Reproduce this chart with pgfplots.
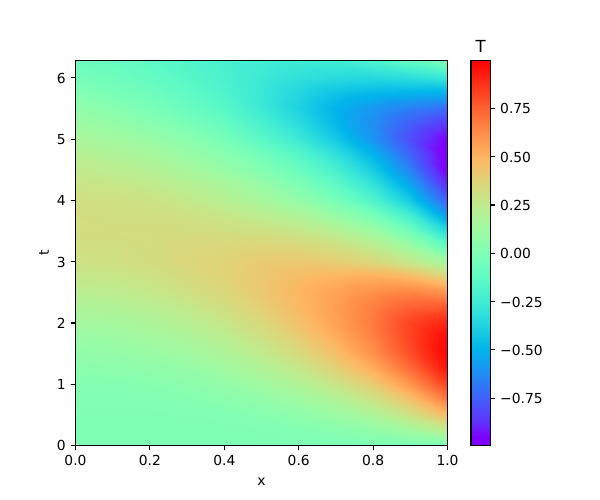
\documentclass[border=0pt]{standalone}
\usepackage{pgfplots}
\usepackage{fontspec}
\setmainfont{DejaVu Sans}
\pgfplotsset{compat=1.18}
\pgfplotsset{
  colormap={mplrainbow}{
    rgb(0pt)=(.5,0,1) rgb(0.35pt)=(.5,0,1) rgb(1pt)=(.375,.195,.995) rgb(2pt)=(.25,.383,.981) rgb(3pt)=(.125,.556,.957)
    rgb(4pt)=(0,.707,.924) rgb(5pt)=(.125,.831,.882) rgb(6pt)=(.25,.924,.831) rgb(7pt)=(.375,.981,.773)
    rgb(8pt)=(.5,1,.707) rgb(9pt)=(.625,.981,.634) rgb(10pt)=(.75,.924,.556) rgb(11pt)=(.875,.831,.471)
    rgb(12pt)=(1,.707,.383) rgb(13pt)=(1,.556,.290) rgb(14pt)=(1,.383,.195) rgb(15pt)=(1,.195,.098) rgb(16pt)=(1,0,0)
  }
}
\begin{document}
\begin{tikzpicture}[x=1in,y=1in]
\path[use as bounding box] (0,0) rectangle (6,5);
\begin{axis}[
  at={(0.755in,0.545in)}, anchor=south west,
  scale only axis, width=3.72in, height=3.85in,
  xmin=0, xmax=1, ymin=0, ymax=6.2832,
  view={0}{90},
  colormap name=mplrainbow,
  point meta min=-0.995, point meta max=0.998,
  axis on top,
  axis line style={line width=0.8pt},
  tick style={black,line width=0.8pt},
  major tick length=3.5pt,
  tick align=outside,
  xtick pos=bottom, ytick pos=left,
  xtick={0,0.2,0.4,0.6,0.8,1},
  ytick={0,1,2,3,4,5,6},
  /pgf/number format/assume math mode=true,
  xticklabel style={/pgf/number format/fixed,/pgf/number format/fixed zerofill,/pgf/number format/precision=1},
  yticklabel style={yshift=-0.3pt},
  tick label style={font=\fontsize{10}{12}\selectfont},
  label style={font=\fontsize{10}{12}\selectfont},
  xlabel={x}, ylabel={t},
  xlabel style={yshift=-2pt},
  ylabel style={yshift=-1pt},
  colorbar,
  colorbar style={
    at={(1.0632,1)}, anchor=north west,
    scale only axis, width=0.195in,
    ytick={-0.75,-0.5,-0.25,0,0.25,0.5,0.75},
    yticklabels={−0.75,−0.50,−0.25,0.00,0.25,0.50,0.75},
    tick style={black,line width=0.8pt},
    major tick length=3.5pt,
    tick align=outside,
    ytick pos=right,
    yticklabel style={yshift=-0.3pt},
    tick label style={font=\fontsize{10}{12}\selectfont},
    title={T},
    title style={font=\fontsize{12}{14}\selectfont,yshift=-3.7pt},
    axis line style={line width=0.8pt},
    axis on top,
  },
]
\addplot3[surf, shader=interp, mesh/rows=26, mesh/cols=11, mesh/ordering=x varies] coordinates {
(0,0,0) (0.1,0,0) (0.2,0,0) (0.3,0,0) (0.4,0,0) (0.5,0,0) (0.6,0,0) (0.7,0,0) (0.8,0,0) (0.9,0,0) (1,0,0)

(0,0.25,0) (0.1,0.25,0) (0.2,0.25,0) (0.3,0.25,0) (0.4,0.25,0) (0.5,0.25,0.005) (0.6,0.25,0.015) (0.7,0.25,0.035) (0.8,0.25,0.07) (0.9,0.25,0.14) (1,0.25,0.25)

(0,0.5,0) (0.1,0.5,0) (0.2,0.5,0) (0.3,0.5,0.005) (0.4,0.5,0.01) (0.5,0.5,0.03) (0.6,0.5,0.06) (0.7,0.5,0.11) (0.8,0.5,0.18) (0.9,0.5,0.30) (1,0.5,0.48)

(0,0.75,0.01) (0.1,0.75,0.01) (0.2,0.75,0.015) (0.3,0.75,0.02) (0.4,0.75,0.04) (0.5,0.75,0.07) (0.6,0.75,0.12) (0.7,0.75,0.19) (0.8,0.75,0.29) (0.9,0.75,0.44) (1,0.75,0.68)

(0,1,0.02) (0.1,1,0.02) (0.2,1,0.03) (0.3,1,0.05) (0.4,1,0.08) (0.5,1,0.13) (0.6,1,0.20) (0.7,1,0.29) (0.8,1,0.41) (0.9,1,0.60) (1,1,0.84)

(0,1.25,0.04) (0.1,1.25,0.05) (0.2,1.25,0.06) (0.3,1.25,0.08) (0.4,1.25,0.13) (0.5,1.25,0.19) (0.6,1.25,0.27) (0.7,1.25,0.38) (0.8,1.25,0.52) (0.9,1.25,0.72) (1,1.25,0.95)

(0,1.5,0.07) (0.1,1.5,0.08) (0.2,1.5,0.10) (0.3,1.5,0.13) (0.4,1.5,0.18) (0.5,1.5,0.25) (0.6,1.5,0.34) (0.7,1.5,0.46) (0.8,1.5,0.61) (0.9,1.5,0.80) (1,1.5,1.0)

(0,1.75,0.10) (0.1,1.75,0.11) (0.2,1.75,0.14) (0.3,1.75,0.17) (0.4,1.75,0.23) (0.5,1.75,0.30) (0.6,1.75,0.40) (0.7,1.75,0.52) (0.8,1.75,0.66) (0.9,1.75,0.83) (1,1.75,0.98)

(0,2,0.14) (0.1,2,0.15) (0.2,2,0.18) (0.3,2,0.22) (0.4,2,0.28) (0.5,2,0.35) (0.6,2,0.45) (0.7,2,0.56) (0.8,2,0.68) (0.9,2,0.83) (1,2,0.91)

(0,2.25,0.18) (0.1,2.25,0.19) (0.2,2.25,0.22) (0.3,2.25,0.26) (0.4,2.25,0.32) (0.5,2.25,0.39) (0.6,2.25,0.48) (0.7,2.25,0.57) (0.8,2.25,0.67) (0.9,2.25,0.76) (1,2.25,0.78)

(0,2.5,0.23) (0.1,2.5,0.24) (0.2,2.5,0.27) (0.3,2.5,0.31) (0.4,2.5,0.36) (0.5,2.5,0.42) (0.6,2.5,0.49) (0.7,2.5,0.56) (0.8,2.5,0.62) (0.9,2.5,0.65) (1,2.5,0.60)

(0,2.75,0.27) (0.1,2.75,0.28) (0.2,2.75,0.30) (0.3,2.75,0.34) (0.4,2.75,0.38) (0.5,2.75,0.42) (0.6,2.75,0.47) (0.7,2.75,0.50) (0.8,2.75,0.52) (0.9,2.75,0.49) (1,2.75,0.38)

(0,3,0.30) (0.1,3,0.31) (0.2,3,0.33) (0.3,3,0.36) (0.4,3,0.38) (0.5,3,0.41) (0.6,3,0.42) (0.7,3,0.40) (0.8,3,0.36) (0.9,3,0.27) (1,3,0.14)

(0,3.25,0.32) (0.1,3.25,0.32) (0.2,3.25,0.33) (0.3,3.25,0.35) (0.4,3.25,0.36) (0.5,3.25,0.37) (0.6,3.25,0.36) (0.7,3.25,0.32) (0.8,3.25,0.25) (0.9,3.25,0.12) (1,3.25,-0.11)

(0,3.5,0.33) (0.1,3.5,0.33) (0.2,3.5,0.33) (0.3,3.5,0.33) (0.4,3.5,0.32) (0.5,3.5,0.31) (0.6,3.5,0.28) (0.7,3.5,0.22) (0.8,3.5,0.12) (0.9,3.5,-0.05) (1,3.5,-0.35)

(0,3.75,0.33) (0.1,3.75,0.32) (0.2,3.75,0.32) (0.3,3.75,0.31) (0.4,3.75,0.28) (0.5,3.75,0.24) (0.6,3.75,0.19) (0.7,3.75,0.10) (0.8,3.75,-0.02) (0.9,3.75,-0.22) (1,3.75,-0.57)

(0,4,0.32) (0.1,4,0.31) (0.2,4,0.30) (0.3,4,0.27) (0.4,4,0.22) (0.5,4,0.16) (0.6,4,0.08) (0.7,4,-0.03) (0.8,4,-0.18) (0.9,4,-0.42) (1,4,-0.76)

(0,4.25,0.29) (0.1,4.25,0.28) (0.2,4.25,0.26) (0.3,4.25,0.22) (0.4,4.25,0.17) (0.5,4.25,0.10) (0.6,4.25,0) (0.7,4.25,-0.12) (0.8,4.25,-0.29) (0.9,4.25,-0.54) (1,4.25,-0.89)

(0,4.5,0.26) (0.1,4.5,0.24) (0.2,4.5,0.21) (0.3,4.5,0.16) (0.4,4.5,0.10) (0.5,4.5,0.02) (0.6,4.5,-0.08) (0.7,4.5,-0.21) (0.8,4.5,-0.40) (0.9,4.5,-0.65) (1,4.5,-0.98)

(0,4.75,0.22) (0.1,4.75,0.19) (0.2,4.75,0.16) (0.3,4.75,0.10) (0.4,4.75,0.04) (0.5,4.75,-0.05) (0.6,4.75,-0.16) (0.7,4.75,-0.31) (0.8,4.75,-0.50) (0.9,4.75,-0.74) (1,4.75,-1.0)

(0,5,0.17) (0.1,5,0.14) (0.2,5,0.10) (0.3,5,0.04) (0.4,5,-0.03) (0.5,5,-0.14) (0.6,5,-0.26) (0.7,5,-0.42) (0.8,5,-0.60) (0.9,5,-0.80) (1,5,-0.96)

(0,5.25,0.12) (0.1,5.25,0.09) (0.2,5.25,0.04) (0.3,5.25,-0.02) (0.4,5.25,-0.09) (0.5,5.25,-0.20) (0.6,5.25,-0.33) (0.7,5.25,-0.48) (0.8,5.25,-0.62) (0.9,5.25,-0.76) (1,5.25,-0.86)

(0,5.5,0.07) (0.1,5.5,0.03) (0.2,5.5,-0.02) (0.3,5.5,-0.08) (0.4,5.5,-0.15) (0.5,5.5,-0.26) (0.6,5.5,-0.38) (0.7,5.5,-0.50) (0.8,5.5,-0.59) (0.9,5.5,-0.66) (1,5.5,-0.71)

(0,5.75,0.02) (0.1,5.75,-0.02) (0.2,5.75,-0.06) (0.3,5.75,-0.12) (0.4,5.75,-0.18) (0.5,5.75,-0.27) (0.6,5.75,-0.36) (0.7,5.75,-0.44) (0.8,5.75,-0.48) (0.9,5.75,-0.50) (1,5.75,-0.51)

(0,6,-0.03) (0.1,6,-0.06) (0.2,6,-0.10) (0.3,6,-0.15) (0.4,6,-0.20) (0.5,6,-0.26) (0.6,6,-0.31) (0.7,6,-0.34) (0.8,6,-0.35) (0.9,6,-0.33) (1,6,-0.28)

(0,6.2832,-0.07) (0.1,6.2832,-0.09) (0.2,6.2832,-0.13) (0.3,6.2832,-0.17) (0.4,6.2832,-0.21) (0.5,6.2832,-0.24) (0.6,6.2832,-0.25) (0.7,6.2832,-0.24) (0.8,6.2832,-0.19) (0.9,6.2832,-0.11) (1,6.2832,0)
};
\end{axis}
\end{tikzpicture}
\end{document}
